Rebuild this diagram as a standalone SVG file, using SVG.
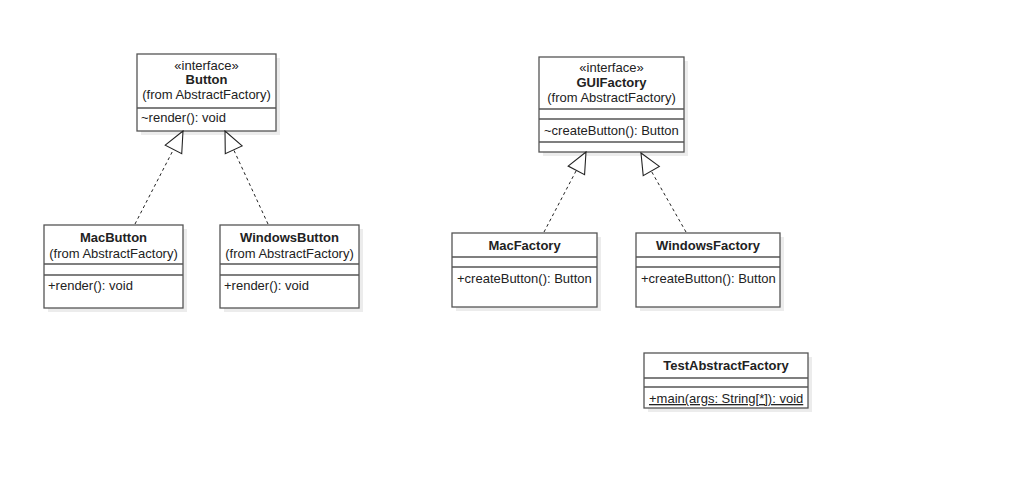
<svg xmlns="http://www.w3.org/2000/svg" width="1024" height="499" viewBox="0 0 1024 499">
<style>
.box{fill:#fff;stroke:#555;stroke-width:1.3}
.sh{fill:#ececec}
.sep{stroke:#555;stroke-width:1.3}
text{font-family:"Liberation Sans",Arial,sans-serif;font-size:13px;fill:#222}
.c{text-anchor:middle}
.b{font-weight:bold}
.dash{stroke:#222;stroke-width:1;stroke-dasharray:3 3;fill:none}
</style>
<defs>
<marker id="tri" markerUnits="userSpaceOnUse" markerWidth="24" markerHeight="24" viewBox="-21 -10 22 20" refX="0" refY="0" orient="auto">
<path d="M0,0 L-19,-8.5 L-19,8.5 Z" fill="#fff" stroke="#222" stroke-width="1"/>
</marker>
</defs>
<rect width="1024" height="499" fill="#fff"/>
<g id="Button">
<rect class="sh" x="141" y="58" width="139" height="77"/>
<rect class="box" x="137" y="54" width="139" height="77"/>
<line class="sep" x1="137" y1="108" x2="276" y2="108"/>
<text class="c" x="206.5" y="70">«interface»</text>
<text class="c b" x="206.5" y="84">Button</text>
<text class="c" x="206.5" y="99">(from AbstractFactory)</text>
<text x="141" y="122">~render(): void</text>
</g>
<g id="MacButton">
<rect class="sh" x="48" y="229" width="139" height="83"/>
<rect class="box" x="44" y="225" width="139" height="83"/>
<line class="sep" x1="44" y1="264" x2="183" y2="264"/>
<line class="sep" x1="44" y1="275" x2="183" y2="275"/>
<text class="c b" x="113.5" y="242">MacButton</text>
<text class="c" x="113.5" y="258">(from AbstractFactory)</text>
<text x="48" y="290">+render(): void</text>
</g>
<g id="WindowsButton">
<rect class="sh" x="224" y="229" width="139" height="83"/>
<rect class="box" x="220" y="225" width="139" height="83"/>
<line class="sep" x1="220" y1="264" x2="359" y2="264"/>
<line class="sep" x1="220" y1="275" x2="359" y2="275"/>
<text class="c b" x="289.5" y="242">WindowsButton</text>
<text class="c" x="289.5" y="258">(from AbstractFactory)</text>
<text x="224" y="290">+render(): void</text>
</g>
<g id="GUIFactory">
<rect class="sh" x="543" y="61" width="145" height="95"/>
<rect class="box" x="539" y="57" width="145" height="95"/>
<line class="sep" x1="539" y1="109" x2="684" y2="109"/>
<line class="sep" x1="539" y1="119" x2="684" y2="119"/>
<line class="sep" x1="539" y1="142" x2="684" y2="142"/>
<text class="c" x="611.5" y="72">«interface»</text>
<text class="c b" x="611.5" y="87">GUIFactory</text>
<text class="c" x="611.5" y="102">(from AbstractFactory)</text>
<text x="544" y="135">~createButton(): Button</text>
</g>
<g id="MacFactory">
<rect class="sh" x="456" y="237" width="145" height="74"/>
<rect class="box" x="452" y="233" width="145" height="74"/>
<line class="sep" x1="452" y1="257" x2="597" y2="257"/>
<line class="sep" x1="452" y1="267" x2="597" y2="267"/>
<text class="c b" x="524.5" y="250">MacFactory</text>
<text x="457" y="283">+createButton(): Button</text>
</g>
<g id="WindowsFactory">
<rect class="sh" x="640" y="237" width="144" height="74"/>
<rect class="box" x="636" y="233" width="144" height="74"/>
<line class="sep" x1="636" y1="257" x2="780" y2="257"/>
<line class="sep" x1="636" y1="267" x2="780" y2="267"/>
<text class="c b" x="708" y="250">WindowsFactory</text>
<text x="641" y="283">+createButton(): Button</text>
</g>
<g id="TestAbstractFactory">
<rect class="sh" x="648" y="357" width="164" height="55"/>
<rect class="box" x="644" y="353" width="164" height="55"/>
<line class="sep" x1="644" y1="378" x2="808" y2="378"/>
<line class="sep" x1="644" y1="387" x2="808" y2="387"/>
<text class="c b" x="726" y="370">TestAbstractFactory</text>
<text x="649" y="403" text-decoration="underline">+main(args: String[*]): void</text>
</g>
<g id="connectors">
<line class="dash" x1="135" y1="224" x2="183" y2="131" marker-end="url(#tri)"/>
<line class="dash" x1="268" y1="224" x2="225" y2="131" marker-end="url(#tri)"/>
<line class="dash" x1="544" y1="232" x2="586" y2="152" marker-end="url(#tri)"/>
<line class="dash" x1="686" y1="232" x2="641" y2="153" marker-end="url(#tri)"/>
</g>
</svg>
